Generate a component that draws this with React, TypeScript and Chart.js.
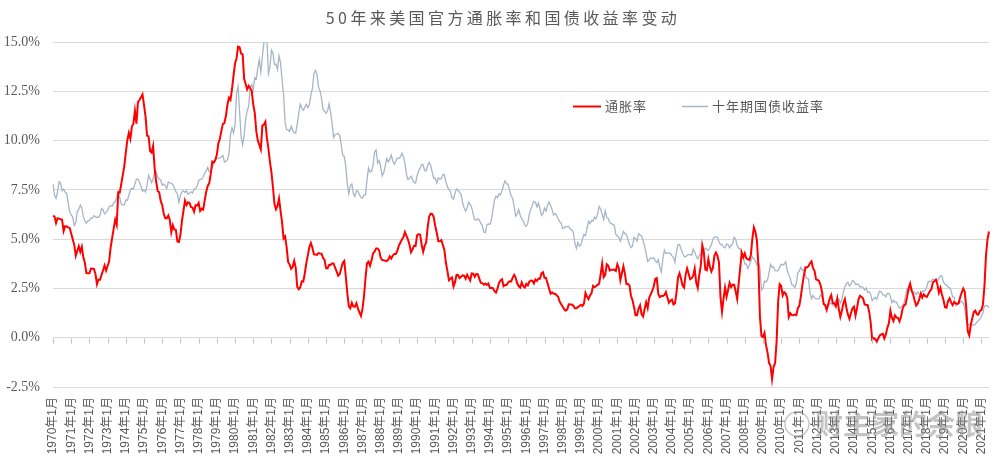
import React, { useEffect, useRef } from 'react';
import { Chart, registerables } from 'chart.js';

Chart.register(...registerables);

const TITLE = '50年来美国官方通胀率和国债收益率变动';
const SERIES_NAMES = ['通胀率', '十年期国债收益率'];
const WATERMARK = '财主家的余粮';
const START_YEAR = 1970;

// US CPI YoY (%), monthly, 1970-01 .. 2021-06
const inflation = [
  6.18, 6.15, 5.82, 6.06, 6.04, 6.01, 5.98, 5.41, 5.66, 5.64, 5.60, 5.57,
  5.29, 5.00, 4.71, 4.16, 4.40, 4.64, 4.36, 4.62, 4.08, 3.80, 3.28, 3.27,
  3.27, 3.51, 3.50, 3.49, 3.23, 2.71, 2.95, 2.94, 3.19, 3.42, 3.67, 3.41,
  3.65, 3.87, 4.59, 5.06, 5.53, 5.99, 5.73, 7.38, 7.36, 7.80, 8.25, 8.71,
  9.39, 10.02, 10.39, 10.09, 10.71, 10.86, 11.51, 10.86, 11.95, 12.06, 12.20, 12.34,
  11.80, 11.23, 10.25, 10.21, 9.47, 9.39, 9.72, 8.60, 7.91, 7.44, 7.38, 6.94,
  6.72, 6.29, 6.07, 6.05, 6.20, 5.97, 5.35, 5.71, 5.49, 5.46, 4.88, 4.86,
  5.22, 5.91, 6.44, 6.95, 6.73, 6.87, 6.83, 6.62, 6.60, 6.39, 6.72, 6.70,
  6.84, 6.43, 6.55, 6.50, 6.97, 7.41, 7.70, 7.84, 8.31, 8.93, 8.89, 9.02,
  9.28, 9.86, 10.09, 10.49, 10.85, 10.89, 11.26, 11.82, 12.18, 12.07, 12.61, 13.29,
  13.91, 14.18, 14.76, 14.73, 14.41, 14.38, 13.13, 12.87, 12.60, 12.77, 12.65, 12.52,
  11.83, 11.41, 10.49, 10.00, 9.78, 9.55, 10.76, 10.80, 10.95, 10.14, 9.59, 8.92,
  8.39, 7.62, 6.78, 6.51, 6.68, 7.06, 6.44, 5.85, 5.04, 5.14, 4.59, 3.83,
  3.71, 3.49, 3.60, 3.90, 3.55, 2.58, 2.46, 2.56, 2.86, 2.85, 3.27, 3.79,
  4.19, 4.60, 4.80, 4.56, 4.23, 4.22, 4.20, 4.29, 4.27, 4.26, 4.05, 3.95,
  3.53, 3.52, 3.70, 3.69, 3.77, 3.76, 3.55, 3.35, 3.14, 3.23, 3.51, 3.80,
  3.89, 3.11, 2.26, 1.59, 1.49, 1.77, 1.58, 1.57, 1.75, 1.47, 1.28, 1.10,
  1.46, 2.10, 3.03, 3.78, 3.86, 3.65, 3.93, 4.28, 4.36, 4.53, 4.53, 4.43,
  4.05, 3.94, 3.93, 3.90, 3.89, 3.96, 4.13, 4.02, 4.17, 4.25, 4.25, 4.42,
  4.67, 4.83, 4.98, 5.11, 5.36, 5.17, 4.98, 4.71, 4.34, 4.49, 4.66, 4.65,
  5.20, 5.26, 5.23, 4.71, 4.36, 4.67, 4.82, 5.62, 6.16, 6.29, 6.27, 6.11,
  5.65, 5.31, 4.90, 4.89, 4.95, 4.70, 4.45, 3.80, 3.39, 2.92, 2.99, 3.06,
  2.60, 2.82, 3.19, 3.18, 3.02, 3.09, 3.16, 3.15, 2.99, 3.20, 3.05, 2.90,
  3.26, 3.25, 3.09, 3.23, 3.22, 3.00, 2.78, 2.77, 2.69, 2.75, 2.68, 2.75,
  2.52, 2.52, 2.51, 2.36, 2.29, 2.49, 2.77, 2.90, 2.96, 2.61, 2.67, 2.67,
  2.80, 2.86, 2.85, 3.05, 3.19, 3.04, 2.76, 2.62, 2.54, 2.81, 2.61, 2.54,
  2.73, 2.65, 2.84, 2.90, 2.89, 2.75, 2.95, 2.88, 3.00, 2.99, 3.26, 3.32,
  3.04, 3.03, 2.76, 2.50, 2.23, 2.30, 2.23, 2.23, 2.15, 2.08, 1.83, 1.70,
  1.57, 1.44, 1.37, 1.44, 1.69, 1.68, 1.68, 1.62, 1.49, 1.49, 1.55, 1.61,
  1.67, 1.61, 1.73, 2.28, 2.09, 1.96, 2.14, 2.26, 2.63, 2.56, 2.62, 2.68,
  2.74, 3.22, 3.76, 3.07, 3.19, 3.73, 3.66, 3.41, 3.45, 3.45, 3.45, 3.39,
  3.73, 3.53, 2.92, 3.27, 3.62, 3.25, 2.72, 2.72, 2.65, 2.13, 1.90, 1.55,
  1.14, 1.14, 1.48, 1.64, 1.18, 1.07, 1.46, 1.80, 1.51, 2.03, 2.20, 2.38,
  2.60, 2.98, 3.02, 2.22, 2.06, 2.11, 2.11, 2.16, 2.32, 2.04, 1.77, 1.88,
  1.93, 1.69, 1.74, 2.29, 3.05, 3.27, 2.99, 2.65, 2.54, 3.19, 3.52, 3.26,
  2.97, 3.01, 3.15, 3.51, 2.80, 2.53, 3.17, 3.64, 4.69, 4.35, 3.46, 3.42,
  3.99, 3.60, 3.36, 3.55, 4.17, 4.32, 4.15, 3.82, 2.06, 1.31, 1.97, 2.54,
  2.08, 2.42, 2.78, 2.57, 2.69, 2.69, 2.36, 1.97, 2.76, 3.54, 4.31, 4.08,
  4.28, 4.03, 3.98, 3.94, 4.18, 5.02, 5.60, 5.37, 4.94, 3.66, 1.07, 0.09,
  0.03, 0.24, -0.38, -0.74, -1.28, -1.43, -2.10, -1.48, -1.29, -0.18, 1.84, 2.72,
  2.63, 2.14, 2.31, 2.24, 2.02, 1.05, 1.24, 1.15, 1.14, 1.17, 1.14, 1.50,
  1.63, 2.11, 2.68, 3.16, 3.57, 3.56, 3.63, 3.77, 3.87, 3.53, 3.39, 2.96,
  2.93, 2.87, 2.65, 2.30, 1.70, 1.66, 1.41, 1.69, 1.99, 2.16, 1.76, 1.74,
  1.59, 1.98, 1.47, 1.06, 1.36, 1.75, 1.96, 1.52, 1.18, 0.96, 1.24, 1.50,
  1.58, 1.13, 1.51, 1.95, 2.13, 2.07, 1.99, 1.70, 1.66, 1.66, 1.32, 0.76,
  -0.09, -0.03, -0.07, -0.20, -0.04, 0.12, 0.17, 0.20, -0.04, 0.17, 0.50, 0.73,
  1.37, 1.02, 0.85, 1.13, 1.02, 1.01, 0.83, 1.06, 1.46, 1.64, 1.69, 2.07,
  2.50, 2.74, 2.38, 2.20, 1.87, 1.63, 1.73, 1.94, 2.23, 2.04, 2.20, 2.11,
  2.07, 2.21, 2.36, 2.46, 2.80, 2.87, 2.95, 2.70, 2.28, 2.52, 2.18, 1.91,
  1.55, 1.52, 1.86, 2.00, 1.79, 1.65, 1.81, 1.75, 1.71, 1.76, 2.05, 2.29,
  2.49, 2.33, 1.54, 0.33, 0.12, 0.65, 0.99, 1.31, 1.37, 1.18, 1.17, 1.36,
  1.40, 1.68, 2.62, 4.16, 4.99, 5.39,
];

// 10-year Treasury yield (%), monthly, 1970-01 .. 2021-06
const treasury10y = [
  7.79, 7.24, 7.07, 7.39, 7.91, 7.84, 7.46, 7.53, 7.39, 7.33, 6.84, 6.39,
  6.24, 6.11, 5.70, 5.83, 6.39, 6.52, 6.73, 6.58, 6.14, 5.93, 5.81, 5.93,
  5.95, 6.08, 6.07, 6.19, 6.13, 6.11, 6.11, 6.21, 6.55, 6.48, 6.28, 6.36,
  6.46, 6.64, 6.71, 6.67, 6.85, 6.90, 7.13, 7.40, 7.09, 6.79, 6.73, 6.74,
  6.99, 6.96, 7.21, 7.51, 7.58, 7.54, 7.81, 8.04, 8.04, 7.90, 7.68, 7.43,
  7.50, 7.39, 7.73, 8.23, 8.06, 7.86, 8.06, 8.40, 8.43, 8.14, 8.05, 8.00,
  7.74, 7.79, 7.73, 7.56, 7.90, 7.86, 7.83, 7.77, 7.59, 7.41, 7.29, 6.87,
  7.21, 7.39, 7.46, 7.37, 7.46, 7.28, 7.33, 7.40, 7.34, 7.52, 7.58, 7.69,
  7.96, 8.03, 8.04, 8.15, 8.35, 8.46, 8.64, 8.41, 8.42, 8.64, 8.81, 9.01,
  9.10, 9.10, 9.12, 9.18, 9.25, 8.91, 8.95, 9.03, 9.33, 10.30, 10.65, 10.39,
  10.80, 12.41, 12.75, 11.47, 10.18, 9.78, 10.25, 11.10, 11.51, 11.75, 12.68, 12.84,
  12.57, 13.19, 13.12, 13.68, 14.10, 13.47, 14.28, 14.94, 15.32, 15.15, 13.39, 13.72,
  14.59, 14.43, 13.86, 13.87, 13.62, 14.30, 13.95, 13.06, 12.34, 10.91, 10.55, 10.54,
  10.46, 10.72, 10.51, 10.40, 10.38, 10.85, 11.38, 11.85, 11.65, 11.54, 11.69, 11.83,
  11.67, 11.84, 12.32, 12.63, 13.41, 13.56, 13.36, 12.72, 12.52, 12.16, 11.57, 11.50,
  11.38, 11.51, 11.86, 11.43, 10.85, 10.16, 10.31, 10.33, 10.37, 10.24, 9.78, 9.26,
  9.19, 8.70, 7.78, 7.30, 7.71, 7.80, 7.30, 7.17, 7.45, 7.43, 7.25, 7.11,
  7.08, 7.25, 7.25, 8.02, 8.61, 8.40, 8.45, 8.76, 9.42, 9.52, 8.86, 8.99,
  8.67, 8.21, 8.37, 8.72, 9.09, 8.92, 9.06, 9.26, 8.98, 8.80, 8.96, 9.11,
  9.09, 9.17, 9.36, 9.18, 8.86, 8.28, 8.02, 8.11, 8.19, 8.01, 7.87, 7.84,
  8.21, 8.47, 8.59, 8.79, 8.76, 8.48, 8.47, 8.75, 8.89, 8.72, 8.39, 8.08,
  8.09, 7.85, 8.11, 8.04, 8.07, 8.28, 8.27, 7.90, 7.65, 7.53, 7.42, 7.09,
  7.03, 7.34, 7.54, 7.48, 7.39, 7.26, 6.84, 6.59, 6.42, 6.59, 6.87, 6.77,
  6.60, 6.26, 5.98, 5.97, 6.04, 5.96, 5.81, 5.68, 5.36, 5.33, 5.72, 5.77,
  5.75, 5.97, 6.48, 6.97, 7.18, 7.10, 7.30, 7.24, 7.46, 7.74, 7.96, 7.81,
  7.78, 7.47, 7.20, 7.06, 6.63, 6.17, 6.28, 6.49, 6.20, 6.04, 5.93, 5.71,
  5.65, 5.81, 6.27, 6.51, 6.74, 6.91, 6.87, 6.64, 6.83, 6.53, 6.20, 6.30,
  6.58, 6.42, 6.69, 6.89, 6.71, 6.49, 6.22, 6.30, 6.21, 6.03, 5.88, 5.81,
  5.54, 5.57, 5.65, 5.64, 5.65, 5.50, 5.46, 5.34, 4.81, 4.53, 4.83, 4.65,
  4.72, 5.00, 5.23, 5.18, 5.54, 5.90, 5.79, 5.94, 5.92, 6.11, 6.03, 6.28,
  6.66, 6.52, 6.26, 5.99, 6.44, 6.10, 6.05, 5.83, 5.80, 5.74, 5.72, 5.24,
  5.16, 5.10, 4.89, 5.14, 5.39, 5.28, 5.24, 4.97, 4.73, 4.57, 4.65, 5.09,
  5.04, 4.91, 5.28, 5.21, 5.16, 4.93, 4.65, 4.26, 3.87, 3.94, 4.05, 4.03,
  4.05, 3.90, 3.81, 3.96, 3.57, 3.33, 3.98, 4.45, 4.27, 4.29, 4.30, 4.27,
  4.15, 4.08, 3.83, 4.35, 4.72, 4.73, 4.50, 4.28, 4.13, 4.10, 4.19, 4.23,
  4.22, 4.17, 4.50, 4.34, 4.14, 4.00, 4.18, 4.26, 4.20, 4.46, 4.54, 4.47,
  4.42, 4.57, 4.72, 4.99, 5.11, 5.11, 5.09, 4.88, 4.72, 4.73, 4.60, 4.56,
  4.76, 4.72, 4.56, 4.69, 4.75, 5.10, 5.00, 4.67, 4.52, 4.53, 4.15, 4.10,
  3.74, 3.74, 3.51, 3.68, 3.88, 4.10, 4.01, 3.89, 3.69, 3.81, 3.53, 2.42,
  2.52, 2.87, 2.82, 2.93, 3.29, 3.72, 3.56, 3.59, 3.40, 3.39, 3.40, 3.59,
  3.73, 3.69, 3.73, 3.85, 3.42, 3.20, 3.01, 2.70, 2.65, 2.54, 2.76, 3.29,
  3.39, 3.58, 3.41, 3.46, 3.17, 3.00, 3.00, 2.30, 1.98, 2.15, 2.01, 1.98,
  1.97, 1.97, 2.17, 2.05, 1.80, 1.62, 1.53, 1.68, 1.72, 1.75, 1.65, 1.72,
  1.91, 1.98, 1.96, 1.76, 1.93, 2.30, 2.58, 2.74, 2.81, 2.62, 2.72, 2.90,
  2.86, 2.71, 2.72, 2.71, 2.56, 2.60, 2.54, 2.42, 2.53, 2.30, 2.33, 2.21,
  1.88, 1.98, 2.04, 1.94, 2.20, 2.36, 2.32, 2.17, 2.17, 2.07, 2.26, 2.24,
  2.09, 1.78, 1.89, 1.81, 1.81, 1.64, 1.50, 1.56, 1.63, 1.76, 2.14, 2.49,
  2.43, 2.42, 2.48, 2.30, 2.30, 2.19, 2.32, 2.21, 2.20, 2.36, 2.35, 2.40,
  2.58, 2.86, 2.84, 2.87, 2.98, 2.91, 2.89, 2.89, 3.00, 3.15, 3.12, 2.83,
  2.71, 2.68, 2.57, 2.53, 2.40, 2.07, 2.06, 1.63, 1.70, 1.71, 1.81, 1.86,
  1.76, 1.50, 0.87, 0.66, 0.67, 0.73, 0.62, 0.65, 0.68, 0.79, 0.87, 0.93,
  1.08, 1.26, 1.61, 1.64, 1.62, 1.52,
];

const monthLabels = inflation.map(
  (_, i) => `${START_YEAR + Math.floor(i / 12)}年${(i % 12) + 1}月`
);

const Y_MIN = -2.5;
const Y_MAX = 15;
const Y_STEP = 2.5;

const TEXT_COLOR = '#595959';
const GRID_COLOR = '#D9D9D9';
const RED = '#FF0000';
const GREY = '#A7B5C8';

const decorPlugin = {
  id: 'decor',
  afterDraw(chart: any) {
    const ctx = chart.ctx;
    const x = chart.scales.x;
    const y = chart.scales.y;
    ctx.save();
    // category axis crossing at 0 with tick marks
    const y0 = Math.round(y.getPixelForValue(0)) + 0.5;
    ctx.strokeStyle = '#BFBFBF';
    ctx.lineWidth = 1;
    ctx.beginPath();
    for (let i = 0; i < monthLabels.length; i += 12) {
      const px = Math.round(x.getPixelForValue(i)) + 0.5;
      ctx.moveTo(px, y0);
      ctx.lineTo(px, y0 + 5);
    }
    ctx.stroke();

    // title
    ctx.fillStyle = TEXT_COLOR;
    ctx.font = '16px "Noto Sans CJK SC", "Liberation Serif", serif';
    (ctx as any).letterSpacing = '3.4px';
    ctx.textAlign = 'center';
    ctx.textBaseline = 'middle';
    ctx.fillText(TITLE, 503, 18);

    // legend
    (ctx as any).letterSpacing = '1px';
    ctx.font = '13px "Noto Sans CJK SC", sans-serif';
    ctx.textAlign = 'left';
    const ly = 106.5;
    ctx.strokeStyle = RED;
    ctx.lineWidth = 2;
    ctx.beginPath();
    ctx.moveTo(573, ly);
    ctx.lineTo(601, ly);
    ctx.stroke();
    ctx.fillText(SERIES_NAMES[0], 605, ly);
    ctx.strokeStyle = GREY;
    ctx.lineWidth = 1.5;
    ctx.beginPath();
    ctx.moveTo(682, ly);
    ctx.lineTo(708, ly);
    ctx.stroke();
    ctx.fillText(SERIES_NAMES[1], 712, ly);

    // watermark
    (ctx as any).letterSpacing = '0px';
    ctx.globalAlpha = 0.5;
    ctx.strokeStyle = '#8a8a8a';
    ctx.lineWidth = 1.4;
    ctx.beginPath();
    ctx.arc(797, 424, 12, 0, Math.PI * 2);
    ctx.stroke();
    ctx.fillStyle = '#8a8a8a';
    ctx.font = 'bold 28px "Noto Sans CJK SC", sans-serif';
    ctx.textAlign = 'left';
    ctx.fillText(WATERMARK, 815, 424);
    ctx.restore();
  },
};

export default function App() {
  const canvasRef = useRef<HTMLCanvasElement | null>(null);

  useEffect(() => {
    if (!canvasRef.current) return;
    const chart = new Chart(canvasRef.current, {
      type: 'line',
      data: {
        labels: monthLabels,
        datasets: [
          {
            label: SERIES_NAMES[0],
            data: inflation,
            borderColor: RED,
            backgroundColor: RED,
            borderWidth: 2,
            pointRadius: 0,
            tension: 0,
            order: 0,
          },
          {
            label: SERIES_NAMES[1],
            data: treasury10y,
            borderColor: GREY,
            backgroundColor: GREY,
            borderWidth: 1.3,
            pointRadius: 0,
            tension: 0,
            order: 1,
          },
        ],
      },
      options: {
        animation: false,
        responsive: false,
        maintainAspectRatio: false,
        events: [],
        layout: { padding: { top: 42, right: 11, left: 0, bottom: 0 } },
        plugins: {
          legend: { display: false },
          title: { display: false },
          tooltip: { enabled: false },
        },
        scales: {
          x: {
            type: 'category',
            offset: false,
            grid: { display: false, drawTicks: false },
            border: { display: false },
            ticks: {
              autoSkip: false,
              minRotation: 90,
              maxRotation: 90,
              padding: 10,
              color: TEXT_COLOR,
              font: { family: '"Liberation Sans", "Noto Sans CJK SC", sans-serif', size: 12 },
              callback: function (this: any, val: any, index: number) {
                return index % 12 === 0 ? monthLabels[index] : '';
              },
            },
            afterFit: (s: any) => {
              s.height = 81;
              s.paddingLeft = 0;
              s.paddingRight = 0;
            },
          },
          y: {
            min: Y_MIN,
            max: Y_MAX,
            grid: { color: GRID_COLOR, lineWidth: 1, drawTicks: false },
            border: { display: false },
            ticks: {
              stepSize: Y_STEP,
              padding: 13,
              color: TEXT_COLOR,
              font: { family: '"Liberation Serif", serif', size: 14 },
              callback: (v: any) => Number(v).toFixed(1) + '%',
            },
            afterFit: (s: any) => {
              s.width = 53;
              s.paddingTop = 0;
              s.paddingBottom = 0;
            },
          },
        },
      },
      plugins: [decorPlugin],
    });
    return () => chart.destroy();
  }, []);

  return (
    <div style={{ position: 'fixed', left: 0, top: 0, width: 1000, height: 468, background: '#fff' }}>
      <canvas ref={canvasRef} width={1000} height={468} style={{ display: 'block', width: 1000, height: 468 }} />
    </div>
  );
}
